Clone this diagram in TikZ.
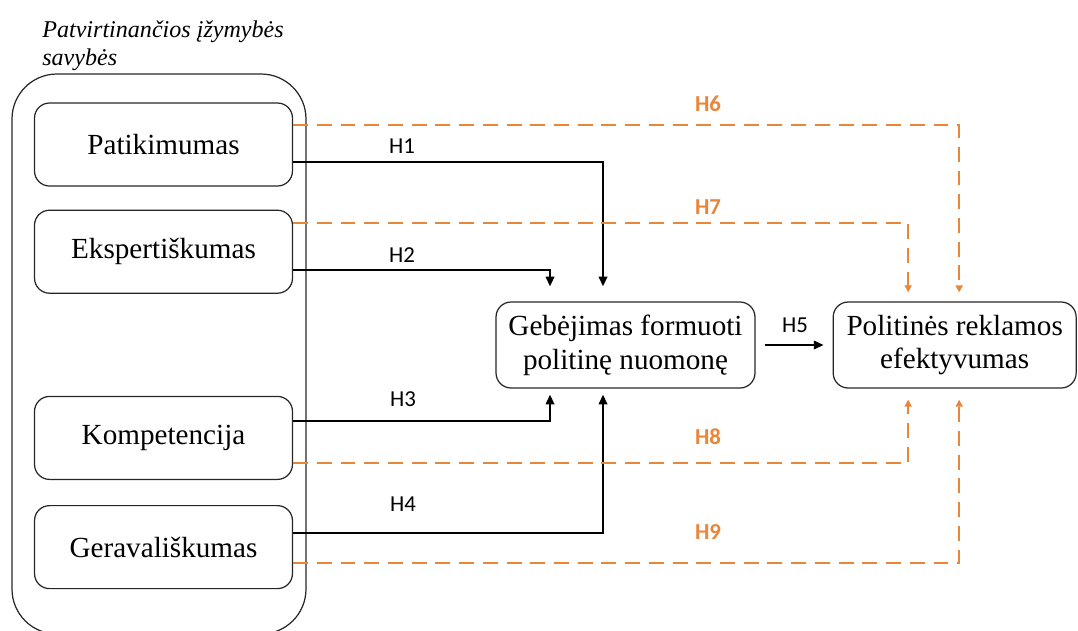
\documentclass[tikz,border=0pt]{standalone}
\usepackage{fontspec}
\setmainfont{Liberation Serif}
\newfontfamily\labelfont{Carlito}
\usepackage{tikz}
\usetikzlibrary{
        positioning,
        arrows.meta
    }
\definecolor{hypoorange}{RGB}{232,134,58}

\begin{document}
\begin{tikzpicture}
[x=0.02cm, y=-0.02cm,
baseshape/.style={rectangle, rounded corners=0.3cm, draw=black!85, line width=0.7pt, text centered, font=\fontsize{16.6}{19.3}\selectfont},
trait/.style={baseshape, minimum width=5.16cm, minimum height=1.66cm},
outcome/.style={baseshape, minimum height=1.72cm, align=center},
hlabel/.style={font=\labelfont\fontsize{13}{15}\selectfont, inner sep=0pt},
olabel/.style={font=\labelfont\bfseries\fontsize{13}{15}\selectfont, inner sep=0pt, text=hypoorange},
arrow/.style={line width=1.1pt, -{Triangle[length=5.5pt,width=4.8pt]}},
dasharrow/.style={line width=1.1pt, hypoorange, dash pattern=on 8.5pt off 5pt, -{Triangle[length=4pt,width=4pt]}},
]
\useasboundingbox (0,0) rectangle (1078,630);
\clip (0,0) rectangle (1078,630);

\node (title) [anchor=north west, align=left, inner sep=0pt, font=\itshape\fontsize{13.7}{16}\selectfont] at (42,20) {Patvirtinančios įžymybės\\savybės};
\draw [rounded corners=0.9cm, line width=0.7pt, draw=black!85] (12,74) rectangle (306,634);

\node (pat) [trait] at (163.5,144.5) {Patikimumas};
\node (eks) [trait, below=0.46cm of pat] {Ekspertiškumas};
\node (komp) [trait, below=2.04cm of eks] {Kompetencija};
\node (gera) [trait, below=0.5cm of komp] {Geravališkumas};

\node (geb) [outcome, minimum width=5.18cm] at (625.5,345) {Gebėjimas formuoti\\politinę nuomonę};
\node (pol) [outcome, minimum width=4.86cm, right=1.54cm of geb] {Politinės reklamos\\efektyvumas};

% H1 - H4
\draw[arrow, shorten >=0.3cm] ([yshift=-0.35cm]pat.east) -| ([xshift=-0.45cm]geb.north);
\draw[arrow, shorten >=0.3cm] ([yshift=-0.36cm]eks.east) -| ([xshift=-1.51cm]geb.north);
\draw[arrow, shorten >=0.12cm] ([yshift=0.33cm]komp.east) -| ([xshift=-1.51cm]geb.south);
\draw[arrow, shorten >=0.12cm] ([yshift=0.29cm]gera.east) -| ([xshift=-0.45cm]geb.south);

% H5
\draw[arrow, shorten <=0.18cm, shorten >=0.18cm] (geb.east) -- (pol.west);

% H6 - H9
\draw[dasharrow, shorten >=0.18cm] ([yshift=0.39cm]pat.east) -| ([xshift=0.09cm]pol.north);
\draw[dasharrow, shorten >=0.18cm] ([yshift=0.58cm]eks.east) -| ([xshift=-0.93cm]pol.north);
\draw[dasharrow, shorten >=0.22cm] ([yshift=-0.51cm]komp.east) -| ([xshift=-0.93cm]pol.south);
\draw[dasharrow, shorten >=0.22cm] ([yshift=-0.31cm]gera.east) -| ([xshift=0.09cm]pol.south);

\node (h1) [hlabel] at (402,146) {H1};
\node (h2) [hlabel] at (402,255) {H2};
\node (h3) [hlabel] at (403,399) {H3};
\node (h4) [hlabel] at (403,504) {H4};
\node (h5) [hlabel] at (795,325) {H5};
\node (h6) [olabel] at (708,104) {H6};
\node (h7) [olabel] at (708,207) {H7};
\node (h8) [olabel] at (708,437) {H8};
\node (h9) [olabel] at (708,532) {H9};

\end{tikzpicture}
\end{document}
